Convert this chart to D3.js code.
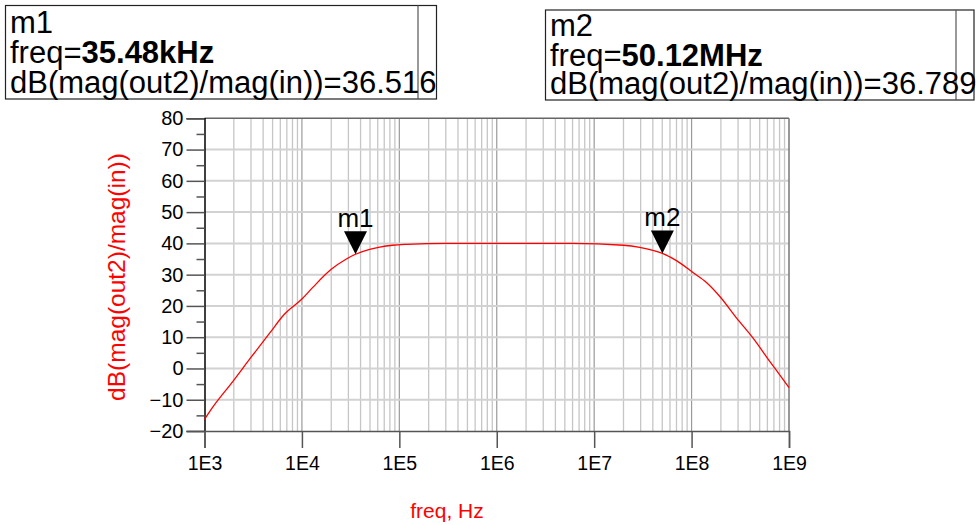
<!DOCTYPE html>
<html>
<head>
<meta charset="utf-8">
<script src="https://cdn.jsdelivr.net/npm/d3@7"></script>
<style>
  body { margin: 0; background: #fff; }
  svg { display: block; font-family: "Liberation Sans", Arial, sans-serif; }
</style>
</head>
<body>
<script>
const width = 978;
const height = 525;

// trace: freq (Hz) and dB(mag(out2)/mag(in))
const freq = [1e3, 1.22e3, 1.95e3, 3.01e3, 4.66e3, 6.64e3, 1e4, 1.3e4, 2.0e4, 2.86e4,
  3.548e4, 4.95e4, 6.28e4, 8.5e4, 1.2e5, 3.0e5, 1e6, 6.0e6, 2.0e7, 2.94e7,
  5.012e7, 7.0e7, 1.04e8, 1.43e8, 1.95e8, 2.9e8, 4.3e8, 6.4e8, 8.1e8, 1e9];
const gain = [-16.3, -12.3, -4.2, 3.6, 11.3, 17.4, 22.2, 26.0, 31.7, 35.0,
  36.516, 38.1, 38.8, 39.4, 39.7, 40.0, 40.0, 40.0, 39.4, 38.7,
  36.789, 34.5, 30.6, 27.4, 23.0, 16.1, 9.6, 2.1, -2.2, -6.1];

const yTicks = [-20, -10, 0, 10, 20, 30, 40, 50, 60, 70, 80];
const yMinor = [-15, -5, 5, 15, 25, 35, 45, 55, 65, 75];
const xDecades = [1e3, 1e4, 1e5, 1e6, 1e7, 1e8, 1e9];
const xTickLabels = ['1E3', '1E4', '1E5', '1E6', '1E7', '1E8', '1E9'];

const markerNames = ['m1', 'm2'];
const markerFreq = [3.548e4, 5.012e7];
const markerGain = [36.516, 36.789];
const markerFreqText = ['35.48kHz', '50.12MHz'];
const markerValText = ['36.516', '36.789'];

const svg = d3.select('body').append('svg')
  .attr('width', width)
  .attr('height', height);

const x = d3.scaleLog().domain([1e3, 1e9]).range([204.5, 789]);
const y = d3.scaleLinear().domain([-20, 80]).range([431, 118.3]);

// grid
const minorX = [];
xDecades.slice(0, -1).forEach(d => {
  for (let k = 2; k <= 9; k++) minorX.push(d * k);
});

const grid = svg.append('g');
grid.selectAll('.vminor')
  .data(minorX)
  .enter().append('line')
    .attr('x1', d => x(d)).attr('x2', d => x(d))
    .attr('y1', y(80)).attr('y2', y(-20))
    .attr('stroke', '#c6c6c6')
    .attr('stroke-width', 1.3);
grid.selectAll('.vmajor')
  .data(xDecades.slice(1, -1))
  .enter().append('line')
    .attr('x1', d => x(d)).attr('x2', d => x(d))
    .attr('y1', y(80)).attr('y2', y(-20))
    .attr('stroke', '#9a9a9a')
    .attr('stroke-width', 1.2);
grid.selectAll('.h')
  .data(yTicks.slice(1, -1))
  .enter().append('line')
    .attr('x1', x(1e3)).attr('x2', x(1e9))
    .attr('y1', d => y(d)).attr('y2', d => y(d))
    .attr('stroke', '#d2d2d2')
    .attr('stroke-width', 2);

// frame top / right
svg.append('line')
  .attr('x1', x(1e3)).attr('x2', x(1e9))
  .attr('y1', y(80)).attr('y2', y(80))
  .attr('stroke', '#666').attr('stroke-width', 1.5);
svg.append('line')
  .attr('x1', x(1e9)).attr('x2', x(1e9))
  .attr('y1', y(80)).attr('y2', y(-20))
  .attr('stroke', '#777').attr('stroke-width', 1.5);

// y axis
const yAxis = svg.append('g')
  .attr('transform', `translate(${x(1e3)},0)`)
  .call(d3.axisLeft(y).tickValues(yTicks).tickSize(18).tickPadding(3));
yAxis.select('.domain').attr('stroke', '#000').attr('stroke-width', 1.5);
yAxis.selectAll('.tick line').attr('stroke', '#555').attr('stroke-width', 1.5);
yAxis.selectAll('.tick text')
  .attr('font-size', 20)
  .attr('fill', '#000')
  .attr('font-family', '"Liberation Sans", Arial, sans-serif');

const yAxisMinor = svg.append('g')
  .attr('transform', `translate(${x(1e3)},0)`)
  .call(d3.axisLeft(y).tickValues(yMinor).tickSize(8).tickFormat(''));
yAxisMinor.select('.domain').remove();
yAxisMinor.selectAll('.tick line').attr('stroke', '#555').attr('stroke-width', 1.5);

// x axis
const xAxis = svg.append('g')
  .attr('transform', `translate(0,${y(-20)})`)
  .call(d3.axisBottom(x).tickValues(xDecades).tickSize(17)
    .tickFormat((d, i) => xTickLabels[i]));
xAxis.select('.domain').attr('stroke', '#555').attr('stroke-width', 1.5);
xAxis.selectAll('.tick line').attr('stroke', '#555').attr('stroke-width', 1.5);
xAxis.selectAll('.tick text')
  .attr('y', 39)
  .attr('dy', null)
  .attr('font-size', 19.5)
  .attr('fill', '#000')
  .attr('font-family', '"Liberation Sans", Arial, sans-serif');

// axis titles
svg.append('text')
  .attr('transform', 'translate(125,277) rotate(-90)')
  .attr('text-anchor', 'middle')
  .attr('font-size', 24.5)
  .attr('fill', '#ff0000')
  .text('dB(mag(out2)/mag(in))');

svg.append('text')
  .attr('x', 447)
  .attr('y', 518)
  .attr('text-anchor', 'middle')
  .attr('font-size', 21)
  .attr('fill', '#ff0000')
  .text('freq, Hz');

// trace
const line = d3.line()
  .x((d, i) => x(freq[i]))
  .y(d => y(d))
  .curve(d3.curveMonotoneX);
svg.append('path')
  .datum(gain)
  .attr('d', line)
  .attr('fill', 'none')
  .attr('stroke', '#ff0000')
  .attr('stroke-width', 1.3);

// markers
const tri = 23;
markerNames.forEach((name, i) => {
  const px = x(markerFreq[i]);
  const py = y(markerGain[i]);
  svg.append('path')
    .attr('d', `M${px},${py} L${px - tri / 2},${py - tri} L${px + tri / 2},${py - tri} Z`)
    .attr('fill', '#000');
  svg.append('text')
    .attr('x', px)
    .attr('y', py - 27)
    .attr('text-anchor', 'middle')
    .attr('font-size', 26)
    .attr('fill', '#000')
    .text(name);
});

// readout boxes
const boxes = [
  {x0: 5.5, y0: 5.5, w: 431, h: 93.5, div: 418, tx: 10, base: [33, 63, 93]},
  {x0: 545.5, y0: 10, w: 428.5, h: 90, div: 956, tx: 550, base: [36, 65.5, 94]}
];
boxes.forEach((b, i) => {
  const g = svg.append('g');
  g.append('rect')
    .attr('x', b.x0).attr('y', b.y0)
    .attr('width', b.w).attr('height', b.h)
    .attr('fill', 'none')
    .attr('stroke', '#222').attr('stroke-width', 1.2);
  g.append('line')
    .attr('x1', b.div).attr('x2', b.div)
    .attr('y1', b.y0).attr('y2', b.y0 + b.h)
    .attr('stroke', '#555').attr('stroke-width', 1.2);
  g.append('text')
    .attr('x', b.tx).attr('y', b.base[0])
    .attr('font-size', 31)
    .text(markerNames[i]);
  const t2 = g.append('text')
    .attr('x', b.tx).attr('y', b.base[1])
    .attr('font-size', 31);
  t2.append('tspan').text('freq=');
  t2.append('tspan').attr('font-weight', 'bold').text(markerFreqText[i]);
  g.append('text')
    .attr('x', b.tx).attr('y', b.base[2])
    .attr('font-size', 31)
    .text('dB(mag(out2)/mag(in))=' + markerValText[i]);
});
</script>
</body>
</html>
